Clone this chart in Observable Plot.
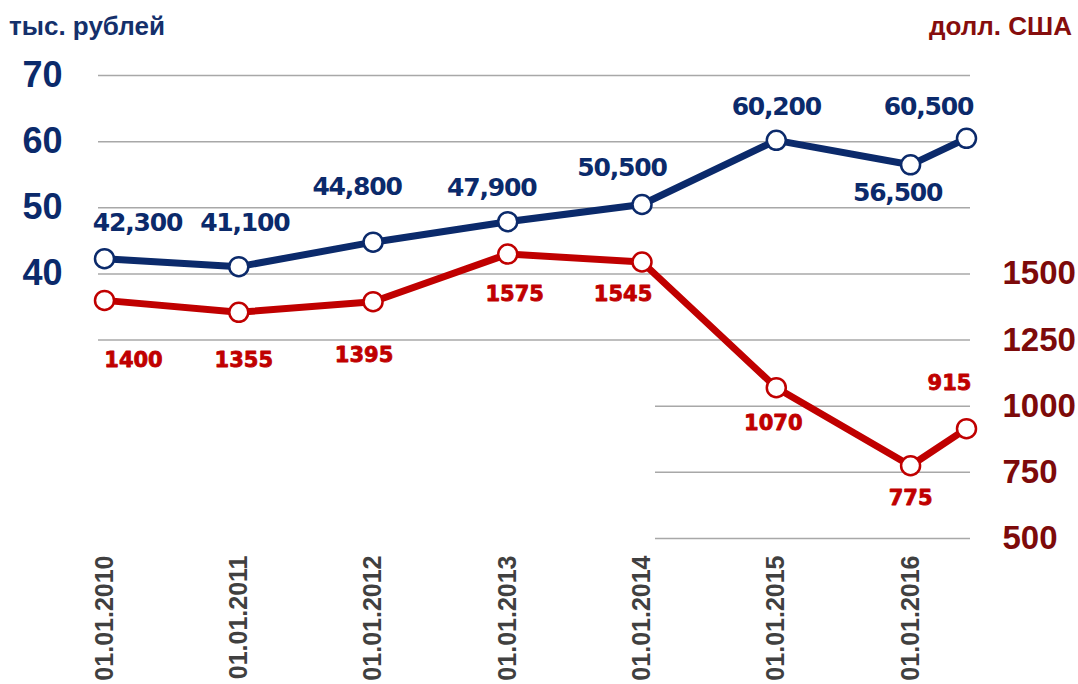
<!DOCTYPE html>
<html>
<head>
<meta charset="utf-8">
<script src="https://cdn.jsdelivr.net/npm/d3@7"></script>
<script src="https://cdn.jsdelivr.net/npm/@observablehq/plot@0.6"></script>
<style>
  html, body { margin: 0; padding: 0; background: #fff; }
  #wrap { position: relative; width: 1078px; height: 684px; font-family: "Liberation Sans", Arial, sans-serif; }
  .ttl { position: absolute; top: 13px; font-size: 26px; line-height: 26px; font-weight: bold; white-space: nowrap; }
  #tl { left: 9px; color: #14306b; }
  #tr { right: 6px; color: #860d0d; }
</style>
</head>
<body>
<div id="wrap">
  <div class="ttl" id="tl">тыс. рублей</div>
  <div class="ttl" id="tr">долл. США</div>
  <div id="chart"></div>
</div>
<script>
// ---- data ----
const dateLabels = ["01.01.2010","01.01.2011","01.01.2012","01.01.2013","01.01.2014","01.01.2015","01.01.2016","01.06.2016"];
const rubThousands = [42.3, 41.1, 44.8, 47.9, 50.5, 60.2, 56.5, 60.5];
const usd = [1400, 1355, 1395, 1575, 1545, 1070, 775, 915];
const xTickLabels = ["01.01.2010","01.01.2011","01.01.2012","01.01.2013","01.01.2014","01.01.2015","01.01.2016"];
const leftTicks = [40, 50, 60, 70];
const rightTicks = [500, 750, 1000, 1250, 1500];
const gridFull = [30, 40, 50, 60, 70];
const gridPartial = [0, 10, 20];

// ---- styling ----
const BLUE = "#0b2a6b";
const RED = "#c00000";
const DARKRED = "#7d0a0a";
const GRID = "#a8a8a8";
const blueNudge = [[33,-36],[6,-44],[-16,-55],[-16,-34],[-20,-36],[0,-33],[-13,28],[-38,-31]];
const redNudge = [[29,60],[5,48],[-9,54],[7,40],[-19,32],[-3,36],[0,33],[-17,-45]];

// USD axis shares the y scale: 1500 USD aligns with 40, 500 USD with 0
const toY = r => r / 25 - 20;
const toR = y => Math.round((y + 20) * 25);
const parseDate = s => new Date(Date.UTC(+s.slice(6), +s.slice(3, 5) - 1, +s.slice(0, 2)));

const rows = dateLabels.map((s, i) => ({date: parseDate(s), rub: rubThousands[i], usd: usd[i], usdY: toY(usd[i])}));
const tickDates = xTickLabels.map(parseDate);
const labelOf = new Map(tickDates.map((d, i) => [+d, xTickLabels[i]]));
const fmtRub = d3.format(",");

const plot = Plot.plot({
  width: 1078,
  height: 684,
  marginLeft: 98,
  marginRight: 108,
  marginTop: 75,
  marginBottom: 146,
  style: {fontFamily: "'Liberation Sans', Arial, sans-serif", background: "#fff"},
  x: {type: "utc", domain: [rows[0].date, rows[rows.length - 1].date], insetLeft: 6, insetRight: 4},
  y: {domain: [0, 70]},
  marks: [
    Plot.ruleY(gridFull, {stroke: GRID, strokeWidth: 1.5}),
    Plot.ruleY(gridPartial, {stroke: GRID, strokeWidth: 1.5, insetLeft: 557}),
    Plot.axisY(leftTicks, {anchor: "left", tickSize: 0, tickPadding: 36, fontSize: 36, fontWeight: "bold", color: BLUE, label: null}),
    Plot.axisY(rightTicks.map(toY), {anchor: "right", tickSize: 0, tickPadding: 32, fontSize: 33, fontWeight: "bold", color: DARKRED, label: null, tickFormat: d => String(toR(d))}),
    Plot.axisX(tickDates, {anchor: "bottom", tickSize: 0, tickPadding: 17, tickRotate: -90, fontSize: 25, fontWeight: "bold", color: "#404040", label: null, tickFormat: d => labelOf.get(+d)}),
    Plot.line(rows, {x: "date", y: "usdY", stroke: RED, strokeWidth: 7}),
    Plot.dot(rows, {x: "date", y: "usdY", r: 9.5, fill: "white", stroke: RED, strokeWidth: 2.5}),
    Plot.line(rows, {x: "date", y: "rub", stroke: BLUE, strokeWidth: 7}),
    Plot.dot(rows, {x: "date", y: "rub", r: 9.5, fill: "white", stroke: BLUE, strokeWidth: 2.5}),
    ...rows.map((r, i) => Plot.text([r], {x: "date", y: "rub", text: d => fmtRub(Math.round(d.rub * 1000)), dx: blueNudge[i][0], dy: blueNudge[i][1], fill: BLUE, fontSize: 25, fontWeight: "bold", fontFamily: "DejaVu Sans"})),
    ...rows.map((r, i) => Plot.text([r], {x: "date", y: "usdY", text: d => String(d.usd), dx: redNudge[i][0], dy: redNudge[i][1], fill: RED, stroke: RED, strokeWidth: 0.8, fontSize: 21, fontWeight: "bold", fontFamily: "DejaVu Sans"}))
  ]
});
document.getElementById("chart").appendChild(plot);
plot.querySelectorAll('g[font-size="25"][font-family="DejaVu Sans"]').forEach(g => g.style.letterSpacing = "-1.2px");
</script>
</body>
</html>
